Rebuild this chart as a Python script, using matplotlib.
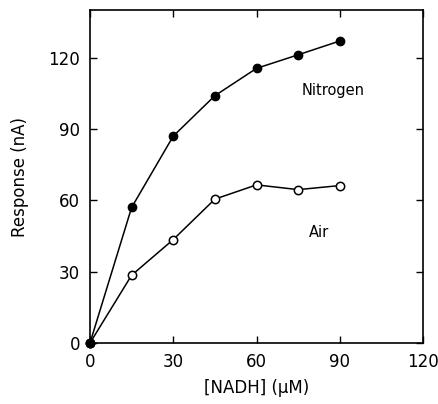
import matplotlib
matplotlib.use("Agg")
from matplotlib import pyplot as plt

# NADH concentration (uM)
nadh = [0, 15, 30, 45, 60, 75, 90]
# response under nitrogen and air (nA)
nitrogen = [0, 57, 87, 104, 115.5, 121.2, 127]
air = [0, 28.5, 43.5, 60.5, 66.5, 64.5, 66.2]

xticks = [0, 30, 60, 90, 120]
yticks = [0, 30, 60, 90, 120]

plt.rcParams['font.family'] = ['DejaVu Sans']

fig = plt.figure(figsize=(4.39, 4.04), dpi=100)
ax = fig.add_axes([0.205, 0.151, 0.7586, 0.824])

# plotting the points
ax.plot(nadh, nitrogen, color='black', lw=1.1, marker='o', markersize=6,
        markerfacecolor='black', markeredgecolor='black', clip_on=False, zorder=3)
ax.plot(nadh, air, color='black', lw=1.1, marker='o', markersize=6,
        markerfacecolor='white', markeredgecolor='black', markeredgewidth=1.1,
        clip_on=False, zorder=3)
# origin drawn solid
ax.plot([nadh[0]], [nitrogen[0]], 'o', color='black', markersize=6, clip_on=False, zorder=4)

ax.text(87.5, 106, 'Nitrogen', ha='center', va='center', fontsize=10.5)
ax.text(82.5, 46.6, 'Air', ha='center', va='center', fontsize=10.5)

ax.set_xlim(0, 120)
ax.set_ylim(0, 140)
ax.set_xticks(xticks)
ax.set_yticks(yticks)
ax.tick_params(direction='in', length=5, width=1, top=True, right=True,
               labelsize=12, pad=7)
for s in ax.spines.values():
    s.set_linewidth(1.2)

# labels
ax.set_xlabel('[NADH] (μM)', fontsize=12, labelpad=6)
ax.set_ylabel('Response (nA)', fontsize=12, labelpad=14)

fig.savefig('out.png', dpi=100)
